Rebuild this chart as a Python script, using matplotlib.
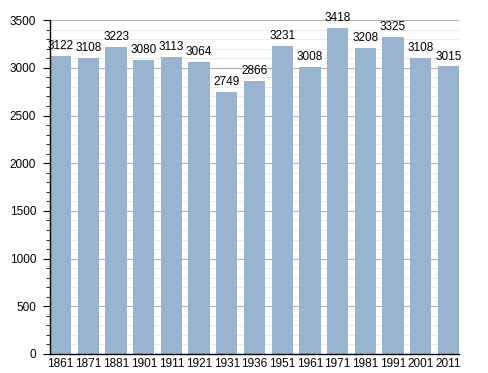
import matplotlib
matplotlib.use("Agg")
import matplotlib.pyplot as plt
from matplotlib.ticker import MultipleLocator

plt.rcParams['font.family'] = ['Liberation Sans', 'DejaVu Sans']

years = ["1861", "1871", "1881", "1901", "1911", "1921", "1931", "1936",
         "1951", "1961", "1971", "1981", "1991", "2001", "2011"]
population = [3122, 3108, 3223, 3080, 3113, 3064, 2749, 2866,
              3231, 3008, 3418, 3208, 3325, 3108, 3015]

bar_w = 0.77
x = list(range(len(years)))

fig = plt.figure(figsize=(4.88, 3.73), dpi=100)
ax = fig.add_axes([0.1025, 0.051, 0.838, 0.895])

ax.bar(x, population, width=bar_w, color='#9ab4d0', zorder=2)
for xi, v in zip(x, population):
    ax.text(xi, v + 40, str(v), ha='center', va='bottom', fontsize=8.5, zorder=3)

ax.set_xlim(-bar_w / 2, len(years) - 1 + bar_w / 2)
ax.set_ylim(0, 3500)
ax.set_xticks(x)
ax.set_xticklabels(years, fontsize=8.5)
ax.yaxis.set_major_locator(MultipleLocator(500))
ax.yaxis.set_minor_locator(MultipleLocator(100))
ax.tick_params(axis='y', which='major', labelsize=8.5, length=5, width=0.8, pad=5)
ax.tick_params(axis='y', which='minor', length=3, width=0.6)
ax.tick_params(axis='x', length=0, pad=3)

ax.grid(True, axis='y', which='major', color='#b0b0b0', linewidth=0.8, zorder=0)
ax.grid(True, axis='y', which='minor', color='#e8e8e8', linewidth=0.6, zorder=0)
for s in ['top', 'right']:
    ax.spines[s].set_visible(False)
ax.spines['left'].set_linewidth(1.0)
ax.spines['bottom'].set_linewidth(1.0)

plt.savefig('out.png', dpi=100)
